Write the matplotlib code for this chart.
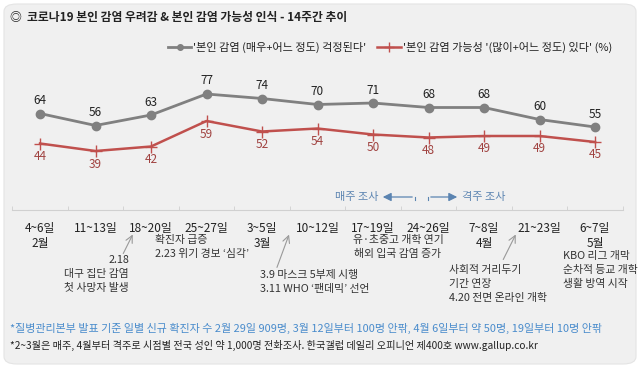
import matplotlib
matplotlib.use("Agg")
import matplotlib.pyplot as plt
from matplotlib.patches import FancyBboxPatch, FancyArrowPatch
from matplotlib.lines import Line2D

plt.rcParams['font.family'] = ['Noto Sans CJK KR', 'DejaVu Sans']

# data
weeks = ['4~6일\n2월', '11~13일', '18~20일', '25~27일', '3~5일\n3월', '10~12일',
         '17~19일', '24~26일', '7~8일\n4월', '21~23일', '6~7일\n5월']
worry = [64, 56, 63, 77, 74, 70, 71, 68, 68, 60, 55]
infect = [44, 39, 42, 59, 52, 54, 50, 48, 49, 49, 45]

title = '◎  코로나19 본인 감염 우려감 & 본인 감염 가능성 인식 - 14주간 추이'
legend1 = "'본인 감염 (매우+어느 정도) 걱정된다'"
legend2 = "'본인 감염 가능성 '(많이+어느 정도) 있다' (%)"
note1 = '*질병관리본부 발표 기준 일별 신규 확진자 수 2월 29일 909명, 3월 12일부터 100명 안팎, 4월 6일부터 약 50명, 19일부터 10명 안팎'
note2 = '*2~3월은 매주, 4월부터 격주로 시점별 전국 성인 약 1,000명 전화조사. 한국갤럽 데일리 오피니언 제400호 www.gallup.co.kr'

W, H = 644, 369
gray = '#808080'
red = '#c0504d'
blue = '#5b84b1'


def fx(x):
    return x / W


def fy(y):
    return 1 - y / H


fig = plt.figure(figsize=(6.44, 3.69), dpi=100)
fig.patch.set_facecolor('white')
panel = FancyBboxPatch((fx(4), fy(364)), fx(632), 360 / H,
                       boxstyle='round,pad=0,rounding_size=0.02',
                       transform=fig.transFigure, facecolor='#f0f0f0',
                       edgecolor='#e4e4e4', lw=0.8, zorder=-5)
fig.patches.append(panel)

ax = fig.add_axes([fx(12.25), fy(209.5), fx(610.5), 150 / H])
ax.set_zorder(2)
ax.set_facecolor('none')
x = list(range(len(weeks)))
ax.plot(x, worry, color=gray, lw=2, marker='o', ms=6, zorder=3, clip_on=False)
ax.plot(x, infect, color=red, lw=1.8, marker='+', ms=8, mew=1, zorder=3, clip_on=False)
for i in x:
    ax.annotate(str(worry[i]), (i, worry[i]), xytext=(0, 13), textcoords='offset pixels',
                ha='center', va='center', fontsize=8.5, color='#222222')
    ax.annotate(str(infect[i]), (i, infect[i]), xytext=(0, -13), textcoords='offset pixels',
                ha='center', va='center', fontsize=8.5, color='#a04240')

ax.set_xlim(-0.5, 10.5)
ax.set_ylim(0, 100)
for s in ['top', 'right', 'left']:
    ax.spines[s].set_visible(False)
ax.spines['bottom'].set_color('#d0d0d0')
ax.set_yticks([])
ax.set_xticks(x)
ax.set_xticklabels(weeks, fontsize=8.5, color='#222222', linespacing=1.2, va='top')
ax.tick_params(axis='x', which='major', length=0, pad=9)
ax.set_xticks([i - 0.5 for i in range(len(weeks) + 1)], minor=True)
ax.tick_params(axis='x', which='minor', direction='in', length=3, color='#cfcfcf')

fig.text(fx(10), fy(18), title, fontsize=8.5, fontweight='bold', color='#222222', va='center')

# legend
fig.add_artist(Line2D([fx(168), fx(179.5), fx(191)], [fy(47)] * 3, color=gray, lw=2,
                      marker='o', ms=4, markevery=[1], transform=fig.transFigure))
fig.text(fx(193), fy(47), legend1, fontsize=8, color='#222222', va='center')
fig.add_artist(Line2D([fx(377), fx(389), fx(401)], [fy(47)] * 3, color=red, lw=1.8,
                      marker='+', ms=7, markevery=[1], transform=fig.transFigure))
fig.text(fx(403), fy(47), legend2, fontsize=8, color='#222222', va='center')

# survey interval marker
fig.text(fx(378), fy(197), '매주 조사', fontsize=8, color=blue, ha='right', va='center')
fig.text(fx(462), fy(197), '격주 조사', fontsize=8, color=blue, ha='left', va='center')
for tail, head in [((415, 197), (380, 197)), ((428, 197), (460, 197))]:
    fig.add_artist(FancyArrowPatch((fx(tail[0]), fy(tail[1])), (fx(head[0]), fy(head[1])),
                                   transform=fig.transFigure,
                                   arrowstyle='-|>,head_length=5,head_width=2.5',
                                   color=blue, lw=0.9, mutation_scale=1))
    fig.add_artist(Line2D([fx(tail[0])] * 2, [fy(197), fy(200)], color=blue, lw=0.8,
                          transform=fig.transFigure))

# events
ev_color = '#333333'
ev_fs = 7.8
events = [
    (129, 255, 'right', '2.18\n대구 집단 감염\n첫 사망자 발생'),
    (155, 235, 'left', '확진자 급증\n2.23 위기 경보 ‘심각’'),
    (260, 270, 'left', '3.9 마스크 5부제 시행\n3.11 WHO ‘팬데믹’ 선언'),
    (398, 235, 'center', '유·초중고 개학 연기\n해외 입국 감염 증가'),
    (449, 265, 'left', '사회적 거리두기\n기간 연장\n4.20 전면 온라인 개학'),
    (563, 251, 'left', 'KBO 리그 개막\n순차적 등교 개학\n생활 방역 시작'),
]
for ex, ey, ha, txt in events:
    fig.text(fx(ex), fy(ey), txt, fontsize=ev_fs, color=ev_color,
             ha=ha, va='top', linespacing=1.5)

arrows = [((122, 256), (134, 232)), ((276, 270), (290, 232)), ((502, 262), (517, 232))]
for tail, head in arrows:
    fig.add_artist(FancyArrowPatch((fx(tail[0]), fy(tail[1])), (fx(head[0]), fy(head[1])),
                                   transform=fig.transFigure,
                                   arrowstyle='->,head_length=5,head_width=2.5',
                                   color='#999999', lw=0.8, mutation_scale=1))

fig.text(fx(10), fy(328), note1, fontsize=7.95, color='#4a8ccc', va='center')
fig.text(fx(10), fy(345), note2, fontsize=7.3, color='#222222', va='center')

fig.savefig('out.png', dpi=100, facecolor='white')
